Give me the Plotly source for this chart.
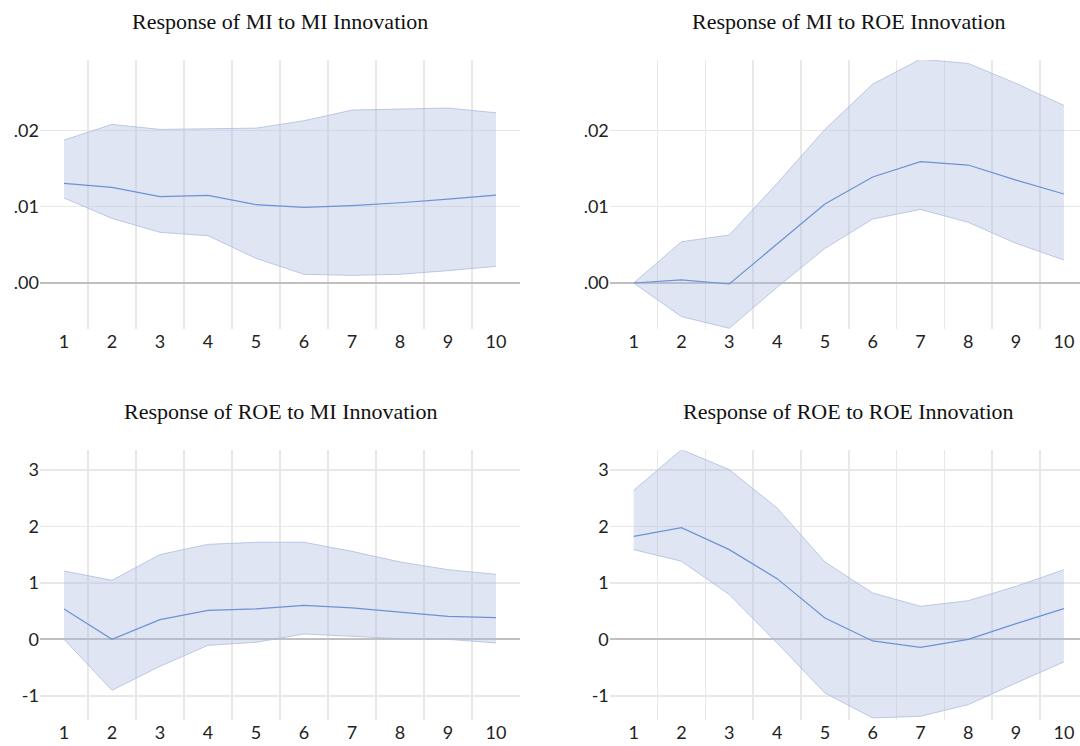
import plotly.graph_objects as go

periods = [1, 2, 3, 4, 5, 6, 7, 8, 9, 10]

titles = [
    "Response of MI to MI Innovation",
    "Response of MI to ROE Innovation",
    "Response of ROE to MI Innovation",
    "Response of ROE to ROE Innovation",
]

mi_mi_mid = [0.01306, 0.01253, 0.01131, 0.01148, 0.01026, 0.00991, 0.01015, 0.01052, 0.01100, 0.01153]
mi_mi_up = [0.01873, 0.02079, 0.02013, 0.02026, 0.02030, 0.02127, 0.02266, 0.02280, 0.02293, 0.02231]
mi_mi_lo = [0.01114, 0.00847, 0.00664, 0.00620, 0.00323, 0.00114, 0.00100, 0.00114, 0.00162, 0.00218]

mi_roe_mid = [0.0, 0.00040, -0.00013, 0.00510, 0.01035, 0.01389, 0.01590, 0.01546, 0.01349, 0.01166]
mi_roe_up = [0.0, 0.00541, 0.00629, 0.01306, 0.02013, 0.02607, 0.02934, 0.02878, 0.02616, 0.02328]
mi_roe_lo = [0.0, -0.00441, -0.00594, -0.00057, 0.00454, 0.00838, 0.00965, 0.00795, 0.00520, 0.00301]

roe_mi_mid = [0.537, 0.0, 0.348, 0.513, 0.537, 0.602, 0.555, 0.478, 0.407, 0.383]
roe_mi_up = [1.209, 1.044, 1.499, 1.681, 1.717, 1.717, 1.557, 1.369, 1.233, 1.150]
roe_mi_lo = [0.0, -0.903, -0.478, -0.106, -0.053, 0.094, 0.053, 0.012, 0.0, -0.065]

roe_roe_mid = [1.823, 1.976, 1.587, 1.074, 0.378, -0.029, -0.142, 0.0, 0.277, 0.543]
roe_roe_up = [2.637, 3.357, 3.003, 2.324, 1.369, 0.820, 0.584, 0.684, 0.938, 1.233]
roe_roe_lo = [1.587, 1.381, 0.791, -0.065, -0.950, -1.392, -1.363, -1.156, -0.773, -0.401]

mi_ticks = [0.0, 0.01, 0.02]
mi_ticktext = [".00", ".01", ".02"]
roe_ticks = [-1, 0, 1, 2, 3]
roe_ticktext = ["-1", "0", "1", "2", "3"]

panels = [
    (mi_mi_mid, mi_mi_up, mi_mi_lo),
    (mi_roe_mid, mi_roe_up, mi_roe_lo),
    (roe_mi_mid, roe_mi_up, roe_mi_lo),
    (roe_roe_mid, roe_roe_up, roe_roe_lo),
]

FILL = "rgba(170,186,222,0.38)"
EDGE = "rgba(170,186,222,0.75)"
LINE = "rgb(108,146,214)"
GRID = "rgb(232,232,232)"
ZERO = "rgb(192,192,192)"

fig = go.Figure()
for i, (mid, up, lo) in enumerate(panels):
    n = "" if i == 0 else str(i + 1)
    xa, ya = "x" + n, "y" + n
    fig.add_trace(go.Scatter(x=periods, y=up, mode="lines", line=dict(color=EDGE, width=1),
                             xaxis=xa, yaxis=ya, showlegend=False, hoverinfo="skip"))
    fig.add_trace(go.Scatter(x=periods, y=lo, mode="lines", line=dict(color=EDGE, width=1),
                             fill="tonexty", fillcolor=FILL,
                             xaxis=xa, yaxis=ya, showlegend=False, hoverinfo="skip"))
    fig.add_trace(go.Scatter(x=periods, y=mid, mode="lines", line=dict(color=LINE, width=1.2),
                             xaxis=xa, yaxis=ya, showlegend=False))

left_dom = [40 / 1080, 520 / 1080]
right_dom = [609.8 / 1080, 1.0]
top_dom = [1 - 329 / 746, 1 - 60 / 746]
bot_dom = [1 - 719.7 / 746, 1 - 450.3 / 746]

tickfont = dict(family="Lato, Open Sans, sans-serif", size=18, color="#222222")
boundaries = [1.5, 2.5, 3.5, 4.5, 5.5, 6.5, 7.5, 8.5, 9.5]

def xaxis(dom, rng, anchor):
    return dict(domain=dom, range=rng, anchor=anchor, tickvals=periods, ticktext=[str(p) for p in periods],
                showgrid=False, zeroline=False, showline=False, ticks="", tickfont=tickfont,
                minor=dict(tickvals=boundaries, showgrid=True, gridcolor=GRID, gridwidth=1.5, ticks=""),
                automargin=False, fixedrange=True)

def yaxis(dom, rng, anchor, tv, tt):
    return dict(domain=dom, range=rng, anchor=anchor, tickvals=tv, ticktext=tt,
                showgrid=True, gridcolor=GRID, gridwidth=1.5, zeroline=True, zerolinecolor=ZERO,
                zerolinewidth=2, showline=False, ticks="", tickfont=tickfont,
                automargin=False, fixedrange=True)

mi_rng = [-0.00603, 0.02923]
roe_rng = [-1.423, 3.345]

fig.update_layout(
    width=1080, height=746,
    margin=dict(l=0, r=0, t=0, b=0, autoexpand=False),
    paper_bgcolor="white", plot_bgcolor="white",
    xaxis=xaxis(left_dom, [0.5, 10.5], "y"),
    yaxis=yaxis(top_dom, mi_rng, "x", mi_ticks, mi_ticktext),
    xaxis2=xaxis(right_dom, [0.5, 10.337], "y2"),
    yaxis2=yaxis(top_dom, mi_rng, "x2", mi_ticks, mi_ticktext),
    xaxis3=xaxis(left_dom, [0.5, 10.5], "y3"),
    yaxis3=yaxis(bot_dom, roe_rng, "x3", roe_ticks, roe_ticktext),
    xaxis4=xaxis(right_dom, [0.5, 10.337], "y4"),
    yaxis4=yaxis(bot_dom, roe_rng, "x4", roe_ticks, roe_ticktext),
)

title_pos = [(280 / 1080, 1 - 21.7 / 746), (848.6 / 1080, 1 - 21.7 / 746),
             (280 / 1080, 1 - 411.3 / 746), (848.6 / 1080, 1 - 411.3 / 746)]
for t, (x, y) in zip(titles, title_pos):
    fig.add_annotation(text=t, x=x, y=y, xref="paper", yref="paper", xanchor="center", yanchor="middle",
                       showarrow=False, font=dict(family="Liberation Serif, Times New Roman, serif",
                                                  size=22, color="#111111"))

fig.write_html("out.html",
               config={"displayModeBar": False, "staticPlot": True},
               post_script="document.body.style.margin='0';document.body.style.padding='0';"
                           "document.documentElement.style.overflow='hidden';")
